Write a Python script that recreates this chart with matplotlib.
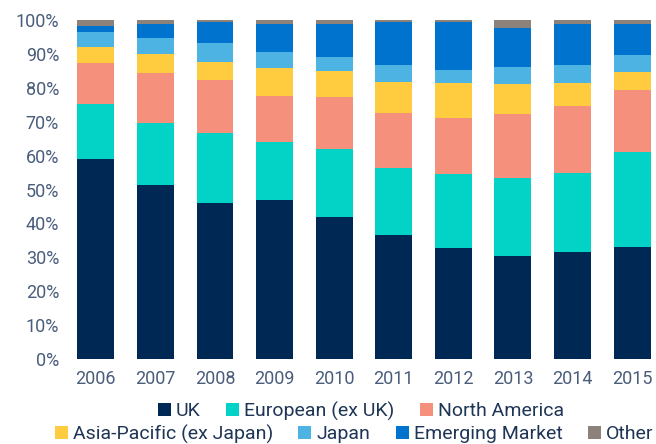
import matplotlib
matplotlib.use('Agg')
import matplotlib.pyplot as plt
import numpy as np

years = ['2006', '2007', '2008', '2009', '2010', '2011', '2012', '2013', '2014', '2015']

# share of holdings by region, %
uk = [59.0, 51.3, 46.0, 46.9, 41.9, 36.6, 32.7, 30.4, 31.6, 33.0]
europe = [16.2, 18.3, 20.7, 17.1, 20.0, 19.7, 21.9, 23.0, 23.3, 28.1]
north_america = [12.1, 14.8, 15.6, 13.6, 15.4, 16.3, 16.5, 18.9, 19.7, 18.3]
asia_pacific = [4.7, 5.6, 5.3, 8.2, 7.7, 9.1, 10.3, 8.8, 6.8, 5.3]
japan = [4.5, 4.7, 5.6, 4.8, 4.1, 5.0, 3.9, 5.0, 5.3, 5.0]
emerging = [1.7, 4.1, 6.2, 8.2, 9.7, 12.7, 14.1, 11.5, 12.1, 9.1]
other = [1.8, 1.2, 0.6, 1.2, 1.2, 0.6, 0.6, 2.4, 1.2, 1.2]

labels = ['UK', 'European (ex UK)', 'North America', 'Asia-Pacific (ex Japan)',
          'Japan', 'Emerging Market', 'Other']
colors = ['#002855', '#03D3C7', '#F4907C', '#FFCC40', '#4CB3E3', '#0073CF', '#8C8279']
series = [uk, europe, north_america, asia_pacific, japan, emerging, other]

plt.rcParams['font.family'] = ['Roboto', 'DejaVu Sans']

fig = plt.figure(figsize=(6.56, 4.44), dpi=100)
ax = fig.add_axes([66 / 656, 1 - 359 / 444, 590 / 656, 339 / 444])

x = np.arange(len(years))
bottom = np.zeros(len(years))
handles = []
for vals, lab, col in zip(series, labels, colors):
    b = ax.bar(x, vals, width=0.62, bottom=bottom, color=col, label=lab, linewidth=0)
    handles.append(b)
    bottom += np.array(vals)

ax.set_xlim(-0.5, 9.4)
ax.set_ylim(0, 100)
ax.set_yticks(np.arange(0, 101, 10))
ax.set_yticklabels([f'{v}%' for v in range(0, 101, 10)])
ax.set_xticks(x)
ax.set_xticklabels(years)
ax.tick_params(length=0, labelsize=13, colors='#4A5D7C')
ax.tick_params(axis='x', pad=8)
ax.tick_params(axis='y', pad=5)
for s in ax.spines.values():
    s.set_visible(False)

leg_kw = dict(frameon=False, fontsize=14, handlelength=0.67, handleheight=0.67,
              handletextpad=0.26, columnspacing=1.3, labelcolor='#1F3556',
              borderaxespad=0, borderpad=0)
leg1 = fig.legend(handles[:3], labels[:3], ncol=3, loc='center',
                  bbox_to_anchor=(361 / 656, 1 - 411 / 444), **leg_kw)
leg2 = fig.legend(handles[3:], labels[3:], ncol=4, loc='center',
                  bbox_to_anchor=(354 / 656, 1 - 434 / 444), **leg_kw)

fig.savefig('out.png', dpi=100)
